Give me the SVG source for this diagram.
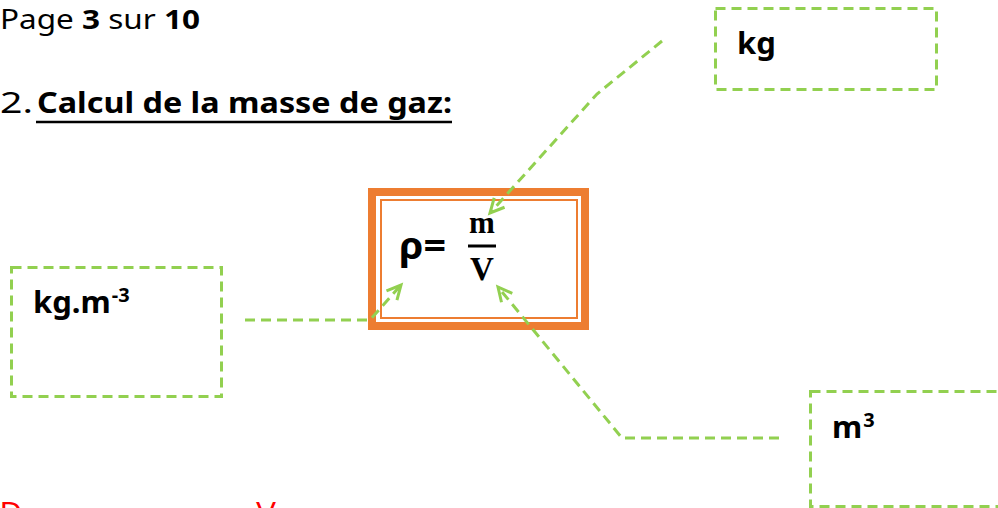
<svg xmlns="http://www.w3.org/2000/svg" width="998" height="508" viewBox="0 0 998 508">
<style>
.t{font-family:"Comic Sans MS","Noto Sans","DejaVu Sans",sans-serif;fill:#000}
.b{font-weight:bold}
.box{fill:none;stroke:#92D050;stroke-width:3;stroke-dasharray:10 6}
.con{fill:none;stroke:#92D050;stroke-width:3;stroke-dasharray:10 6}
.serif{font-family:"Liberation Serif","Times New Roman",serif;font-weight:bold;fill:#000}
</style>
<defs>
<marker id="arr" markerUnits="userSpaceOnUse" markerWidth="20" markerHeight="20" refX="15" refY="8" orient="auto" overflow="visible">
<path d="M1,1 L15,8 L1,15" fill="none" stroke="#92D050" stroke-width="3" stroke-dasharray="none"/>
</marker>
</defs>
<rect width="998" height="508" fill="#fff"/>
<g id="header">
<text class="t" x="0" y="29" font-size="27" textLength="200" lengthAdjust="spacingAndGlyphs">Page <tspan class="b">3</tspan> sur <tspan class="b">10</tspan></text>
<text class="t" x="0" y="113" font-size="29" textLength="33" lengthAdjust="spacingAndGlyphs">2.</text>
<text class="t b" x="37" y="113" font-size="29" textLength="415" lengthAdjust="spacingAndGlyphs">Calcul de la masse de gaz:</text>
<line x1="36" y1="122" x2="452" y2="122" stroke="#000" stroke-width="2.5"/>
</g>
<g id="formula">
<rect x="372" y="192" width="213" height="134" fill="#fff" stroke="#ED7D31" stroke-width="8"/>
<rect x="381" y="200" width="196" height="118" fill="none" stroke="#ED7D31" stroke-width="2"/>
<text class="t b" x="399" y="259" font-size="38" textLength="47" lengthAdjust="spacingAndGlyphs">ρ=</text>
<text class="serif" x="482" y="233" font-size="31" text-anchor="middle">m</text>
<line x1="468" y1="246" x2="496" y2="246" stroke="#000" stroke-width="3"/>
<text class="serif" x="482" y="280" font-size="33" text-anchor="middle">V</text>
</g>
<g id="unit-rho">
<rect class="box" x="11.5" y="267.5" width="210" height="129"/>
<text class="t b" x="33" y="313" font-size="31">kg.m<tspan font-size="20" dx="1" dy="-11">-3</tspan></text>
</g>
<g id="unit-m">
<rect class="box" x="715.5" y="8.5" width="221" height="81"/>
<text class="t b" x="737" y="54" font-size="31">kg</text>
</g>
<g id="unit-V">
<rect class="box" x="810.5" y="391.5" width="200" height="115"/>
<text class="t b" x="832" y="438" font-size="31">m<tspan font-size="20" dx="1" dy="-11">3</tspan></text>
</g>
<g id="connectors">
<path class="con" d="M245,320 L370,320 L401,285" marker-end="url(#arr)"/>
<path class="con" d="M662,41 L597,94 L490,213" marker-end="url(#arr)"/>
<path class="con" d="M779,438 L622,438 L498,287" marker-end="url(#arr)"/>
</g>
<g id="footer">
<text x="0" y="522" font-family="Liberation Sans,sans-serif" font-size="30" fill="#f00">D</text>
<text x="256" y="522" font-family="Liberation Sans,sans-serif" font-size="30" fill="#f00">V</text>
</g>
</svg>
